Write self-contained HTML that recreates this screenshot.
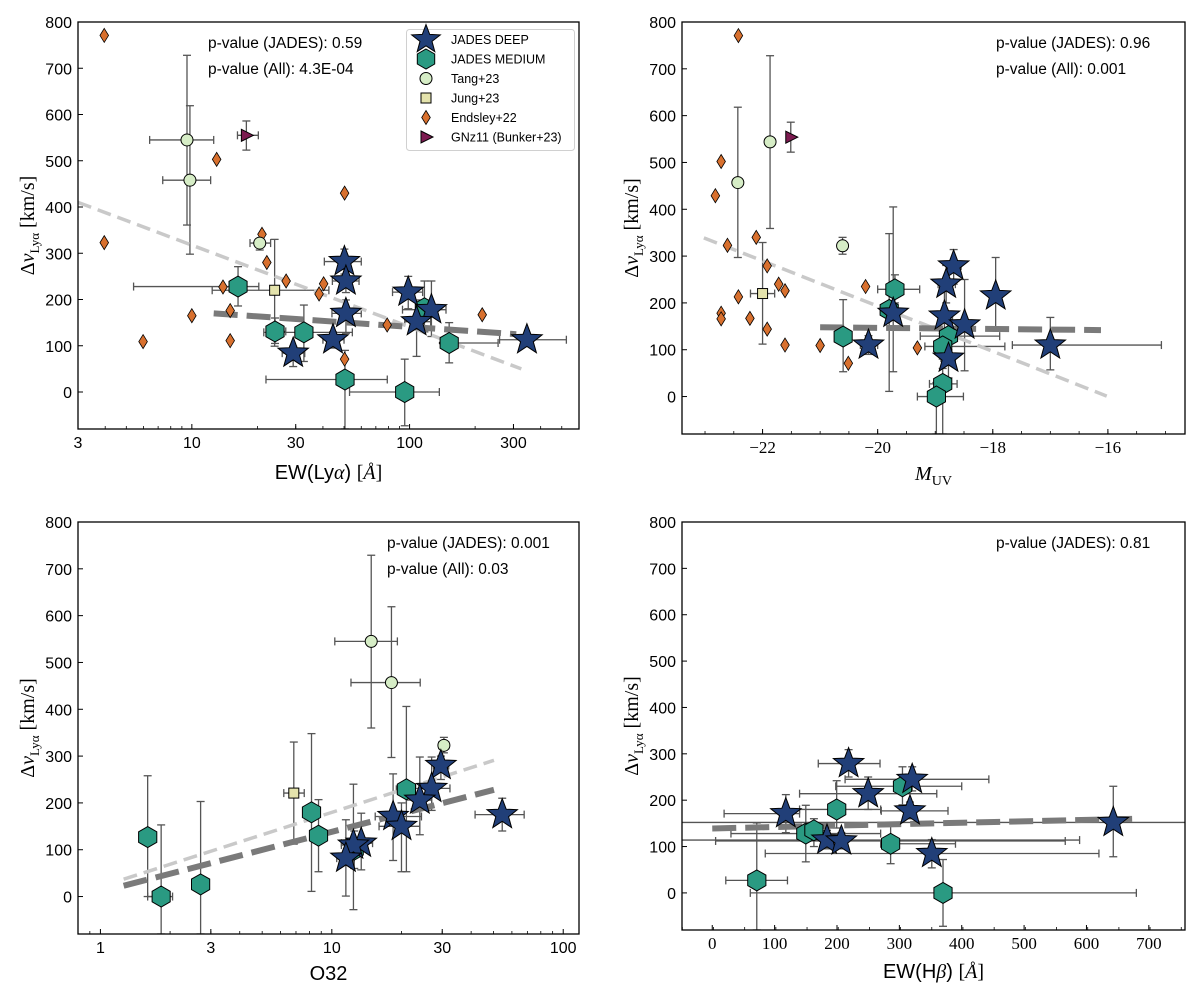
<!DOCTYPE html>
<html><head><meta charset="utf-8"><style>
body{margin:0;background:#fff}
svg{display:block}
text{font-family:"Liberation Sans",sans-serif;fill:#000}
.serif{font-family:"Liberation Serif",serif}
</style></head><body>
<svg id="fig" width="1200" height="998" viewBox="0 0 1200 998" xmlns="http://www.w3.org/2000/svg"></svg>
<script>
// ---------- data: panel 1 (EW Lya, log) ----------
const p1Deep=[[50.2,282],[51,240],[98.6,216],[126,178],[51,170],[107.7,152],[44.5,113],[29.2,84],[346,113]];
const p1DeepErr=[[40.6,60,255,309],[44.2,58.6,215,265],[83.5,114.8,180,250],[92.8,147,120,240],[44,60,127,199],[95,125,77,199],[40,50,95,130],[26,33,55,99],[259,525,103,123]];
const p1Med=[[16.3,228],[24.1,131],[32.7,129],[152,106],[50.5,27],[95,0],[117,181]];
const p1MedErr=[[5.4,20.3,186,271],[22,27,105,160],[21.4,54.6,66,188],[140,255,63,150],[21.9,79,-80,90],[53,137,-73,71],[108,128,130,240]];
const p1Tang=[[9.5,545],[9.8,458],[20.5,322]];
const p1TangErr=[[6.4,12.6,361,728],[7.35,12.2,298,619],[18.5,23,307,331]];
const p1Jung=[[24,220]];
const p1JungErr=[[12.4,42.6,99,330]];
const p1Gn=[[17.8,555]];
const p1GnErr=[[16.2,20.2,523,586]];
const p1End=[[3.96,771],[3.96,323],[5.97,109],[10,165],[13,503],[13.9,227],[15,176],[15,111],[21,341],[22.1,280],[27.1,240],[38.4,212],[40.3,234],[50.3,430],[50.3,71],[78.9,145],[143,106],[215.6,167]];
const p1FitAll=[[3,410],[326,50]];
const p1FitJades=[[12.6,170],[309,125]];
const p1Ticks=[3,10,30,100,300];
// ---------- panel 2 (M_UV) ----------
const p2Deep=[[-18.68,279],[-18.81,240],[-17.95,215],[-19.73,178],[-18.84,172],[-18.49,153],[-20.16,110],[-17.0,110],[-18.77,82]];
const p2DeepErr=[[-18.8,-18.55,240,314],[-18.95,-18.65,200,280],[-18.05,-17.85,140,297],[-19.85,-19.6,53,405],[-18.95,-18.7,100,240],[-18.6,-18.4,55,250],[-20.3,-20.0,90,130],[-17.66,-15.07,57,169],[-18.9,-18.65,40,120]];
const p2Med=[[-19.7,229],[-20.6,128],[-18.77,129],[-18.87,107],[-18.87,27],[-18.98,0],[-19.8,185]];
const p2MedErr=[[-20.0,-19.27,200,260],[-20.7,-20.5,53,207],[-19.26,-17.88,100,160],[-19.18,-17.79,80,135],[-19.1,-18.62,-80,60],[-19.31,-18.51,-80,30],[-19.95,-19.65,11,348]];
const p2Tang=[[-21.87,544],[-22.43,457],[-20.61,322]];
const p2TangErr=[[null,null,359,728],[null,null,297,618],[null,null,304,340]];
const p2Jung=[[-22,220]];
const p2JungErr=[[-22.21,-21.79,112,329]];
const p2Gn=[[-21.51,554]];
const p2GnErr=[[null,null,522,586]];
const p2End=[[-22.42,771],[-22.72,502],[-22.82,429],[-22.11,340],[-22.61,323],[-21.92,279],[-21.72,240],[-21.61,226],[-22.42,213],[-22.72,178],[-22.72,166],[-22.22,167],[-21.92,144],[-21.61,110],[-21.0,109],[-20.21,235],[-20.51,71],[-19.31,104]];
const p2FitAll=[[-23.02,339],[-16.02,1]];
const p2FitJades=[[-21.0,148],[-16.12,142]];
const p2Ticks=[-22,-20,-18,-16];
// ---------- panel 3 (O32, log) ----------
const p3Deep=[[29.6,280],[27,231],[24,206],[18.4,171],[20,150],[54.5,175],[13.4,114],[12.4,110],[11.5,82]];
const p3DeepErr=[[27.5,32,250,300],[22.9,32.4,184,298],[21,27,132,298],[15.4,24.4,77,262],[16,24,53,200],[41.6,67.8,140,210],[11,15,57,178],[11,14,-28,240],[10.5,12.5,1,164]];
const p3Med=[[1.6,127],[1.83,0],[2.71,26],[8.17,180],[8.76,130],[21,229],[12.5,100]];
const p3MedErr=[[null,null,0,258],[1.6,2.05,-80,153],[2.55,2.9,-80,203],[null,null,11,348],[8.3,9.2,53,207],[19,23,53,406],[null,null,60,140]];
const p3Tang=[[14.8,545],[18.1,457],[30.5,323]];
const p3TangErr=[[10.3,19.2,360,729],[12.1,24.1,297,619],[29,32,307,340]];
const p3Jung=[[6.85,221]];
const p3JungErr=[[6.2,7.6,112,330]];
const p3FitAll=[[1.26,37],[50.2,291]];
const p3FitJades=[[1.26,23],[50.2,228]];
const p3Ticks=[1,3,10,30,100];
// ---------- panel 4 (EW Hb) ----------
const p4Deep=[[218.6,279],[320.6,245],[250,214],[317,177],[118,171],[643,152],[184,114],[207,112],[352,85]];
const p4DeepErr=[[170,269,250,309],[213,443.5,220,272],[140,360,180,250],[271,378,160,196],[19,140,130,212],[-100,1000,78,230],[-100,589,95,135],[5.4,566,95,130],[85,620,54,115]];
const p4Med=[[199.5,180],[305,230],[150,128],[163,135],[286,106],[71.4,27],[370,0]];
const p4MedErr=[[140,270,140,242],[198,400,190,272],[30,270,67,189],[null,null,100,160],[270,390,63,150],[21.7,120.6,-80,151],[61,680,-72,72]];
const p4FitJades=[[0,139],[680,160]];
const p4Ticks=[0,100,200,300,400,500,600,700];
const yTicks=[0,100,200,300,400,500,600,700,800];

const NS='http://www.w3.org/2000/svg';
const svg=document.getElementById('fig');
function mk(tag,attrs,parent){const e=document.createElementNS(NS,tag);for(const k in attrs)e.setAttribute(k,attrs[k]);(parent||svg).appendChild(e);return e;}
function scale(type,d0,d1,r0,r1){
  if(type==='log'){const a=Math.log10(d0),b=Math.log10(d1);return v=>r0+(Math.log10(v)-a)/(b-a)*(r1-r0);}
  return v=>r0+(v-d0)/(d1-d0)*(r1-r0);
}
const COL={deep:'#213f78',med:'#2a9a82',tang:'#d6edc6',jung:'#e4e3ac',end:'#d8702e',gn:'#7c1a50'};
function star(g,cx,cy,R){let p=[];for(let i=0;i<10;i++){const r=i%2?R*0.42:R;const a=-Math.PI/2+i*Math.PI/5;p.push((cx+r*Math.cos(a)).toFixed(1)+','+(cy+r*Math.sin(a)).toFixed(1));}
  return mk('polygon',{points:p.join(' '),fill:COL.deep,stroke:'#000','stroke-width':1},g);}
function hexa(g,cx,cy,R){let p=[];for(let i=0;i<6;i++){const a=-Math.PI/2+i*Math.PI/3;p.push((cx+R*Math.cos(a)).toFixed(1)+','+(cy+R*Math.sin(a)).toFixed(1));}
  return mk('polygon',{points:p.join(' '),fill:COL.med,stroke:'#000','stroke-width':1},g);}
function circ(g,cx,cy){return mk('circle',{cx:cx,cy:cy,r:6,fill:COL.tang,stroke:'#000','stroke-width':1},g);}
function sq(g,cx,cy){return mk('rect',{x:cx-5,y:cy-5,width:10,height:10,fill:COL.jung,stroke:'#000','stroke-width':1},g);}
function dia(g,cx,cy){return mk('polygon',{points:`${cx},${cy-7} ${cx+4.3},${cy} ${cx},${cy+7} ${cx-4.3},${cy}`,fill:COL.end,stroke:'#000','stroke-width':0.8},g);}
function tri(g,cx,cy){return mk('polygon',{points:`${cx-5},${cy-6} ${cx+7},${cy} ${cx-5},${cy+6}`,fill:COL.gn,stroke:'#000','stroke-width':1},g);}

function panel(cfg){
  const {id,L,R,T,B,xs,xd,yd}=cfg;
  const g=mk('g',{});
  
  
  const X=scale(xs,xd[0],xd[1],L,R), Y=scale('lin',yd[0],yd[1],B,T);
  const clipId='c'+id;
  const cp=mk('clipPath',{id:clipId},g);mk('rect',{x:L,y:T,width:R-L,height:B-T},cp);
  const plot=mk('g',{'clip-path':`url(#${clipId})`},g);
  
  
  // error bars
  function errs(pts,errArr,name){
    const eg=mk('g',{stroke:'#555','stroke-width':1.3,fill:'none'},plot);
    
    
    pts.forEach((p,i)=>{const e=errArr[i];if(!e)return;const cx=X(p[0]),cy=Y(p[1]);
      if(e[0]!==null){const x0=xs==='log'&&e[0]<=0?L-10:X(e[0]),x1=X(e[1]);mk('line',{x1:x0,y1:cy,x2:x1,y2:cy},eg);mk('line',{x1:x0,y1:cy-4,x2:x0,y2:cy+4},eg);mk('line',{x1:x1,y1:cy-4,x2:x1,y2:cy+4},eg);}
      if(e[2]!==null){const y0=Y(e[2]),y1=Y(e[3]);mk('line',{x1:cx,y1:y0,x2:cx,y2:y1},eg);mk('line',{x1:cx-4,y1:y0,x2:cx+4,y2:y0},eg);mk('line',{x1:cx-4,y1:y1,x2:cx+4,y2:y1},eg);}
    });
  }
  const S=cfg.series;
  if(S.end)errs(S.end,[],'endsley');
  if(S.gn)errs(S.gn,S.gnErr,'gnz11');
  if(S.jung)errs(S.jung,S.jungErr,'jung');
  if(S.tang)errs(S.tang,S.tangErr,'tang');
  errs(S.med,S.medErr,'jades-medium');
  errs(S.deep,S.deepErr,'jades-deep');
  // fits
  function fit(pts,col,w,dash,name){const l=mk('line',{x1:X(pts[0][0]),y1:Y(pts[0][1]),x2:X(pts[1][0]),y2:Y(pts[1][1]),stroke:col,'stroke-width':w,'stroke-dasharray':dash},plot);
    
    }
  if(S.fitAll)fit(S.fitAll,'#c9c9c9',3.5,'14 7','fit-all-line');
  fit(S.fitJades,'#7a7a7a',6,'24 9','fit-jades-line');
  // markers
  function marks(pts,fn,name){const mg=mk('g',{},plot);
    
    
    pts.forEach(p=>{const m=fn(mg,X(p[0]),Y(p[1]));
      
      });}
  if(S.end)marks(S.end,dia,'endsley');
  if(S.tang)marks(S.tang,circ,'tang');
  if(S.jung)marks(S.jung,sq,'jung');
  if(S.gn)marks(S.gn,tri,'gnz11');
  marks(S.med,(g2,x,y)=>hexa(g2,x,y,10.5),'jades-medium');
  marks(S.deep,(g2,x,y)=>star(g2,x,y,16),'jades-deep');
  // frame
  const fr=mk('rect',{x:L,y:T,width:R-L,height:B-T,fill:'none',stroke:'#000','stroke-width':1.3},g);
  
  
  // y ticks
  const yt=mk('g',{},g);
  
  
  yTicks.forEach(v=>{const y=Y(v);mk('line',{x1:L,y1:y,x2:L+5,y2:y,stroke:'#000','stroke-width':1},yt);
    const t=mk('text',{x:L-6,y:y+6,'text-anchor':'end','font-size':16},yt);t.textContent=v;});
  // x ticks
  const xt=mk('g',{},g);
  
  
  cfg.ticks.forEach(v=>{const x=X(v);mk('line',{x1:x,y1:B,x2:x,y2:B-5,stroke:'#000','stroke-width':1},xt);
    const t=mk('text',{x:x,y:B+cfg.tly,'text-anchor':'middle','font-size':cfg.serifTicks?17:16,class:cfg.serifTicks?'serif':''},xt);
    t.textContent=(v<0?'\u2212'+Math.abs(v):String(v));});
  if(xs==='log'){const a=Math.floor(Math.log10(xd[0])),b=Math.ceil(Math.log10(xd[1]));
    for(let d=a;d<=b;d++)for(let k=2;k<=9;k++){const v=k*Math.pow(10,d);if(v<xd[0]||v>xd[1])continue;const x=X(v);mk('line',{x1:x,y1:B,x2:x,y2:B-3,stroke:'#000','stroke-width':0.8},xt);}}
  else{for(let v=Math.ceil(xd[0]);v<=xd[1];v+=cfg.minor){const x=X(v);mk('line',{x1:x,y1:B,x2:x,y2:B-3,stroke:'#000','stroke-width':0.8},xt);}}
  // labels
  const yl=mk('text',{transform:`translate(${L-44},${(T+B)/2}) rotate(-90)`,'text-anchor':'middle','font-size':20,class:'serif'},g);
  
  
  yl.innerHTML='\u0394<tspan font-style="italic">v</tspan><tspan font-size="13" dy="5">Ly\u03b1</tspan><tspan dy="-5"> [km/s]</tspan>';
  const xl=mk('text',{x:(L+R)/2,y:B+cfg.xly,'text-anchor':'middle','font-size':20},g);
  
  
  xl.innerHTML=cfg.xlabel;
  cfg.pv.forEach((s,i)=>{const t=mk('text',{x:cfg.pvx,y:T+26+i*26,'font-size':15.5},g);
    
    
    t.textContent=s;});
  return g;
}
panel({id:'panel-ew-lya',L:78,R:579,T:22,B:429,xs:'log',xd:[3,600],yd:[-80,800],ticks:p1Ticks,tly:19,xly:50,
  xlabel:'EW(Ly<tspan class="serif" font-style="italic">\u03b1</tspan>) <tspan class="serif">[<tspan font-style="italic">\u00c5</tspan>]</tspan>',
  pv:['p-value (JADES): 0.59','p-value (All): 4.3E-04'],pvx:208,
  series:{deep:p1Deep,deepErr:p1DeepErr,med:p1Med,medErr:p1MedErr,tang:p1Tang,tangErr:p1TangErr,jung:p1Jung,jungErr:p1JungErr,gn:p1Gn,gnErr:p1GnErr,end:p1End,fitAll:p1FitAll,fitJades:p1FitJades}});
panel({id:'panel-muv',L:682,R:1185,T:22,B:434,xs:'lin',xd:[-23.4,-14.66],yd:[-80,800],ticks:p2Ticks,tly:19,minor:0.5,serifTicks:true,xly:46,
  xlabel:'<tspan class="serif" font-style="italic">M</tspan><tspan class="serif" font-size="14" dy="5">UV</tspan>',
  pv:['p-value (JADES): 0.96','p-value (All): 0.001'],pvx:996,
  series:{deep:p2Deep,deepErr:p2DeepErr,med:p2Med,medErr:p2MedErr,tang:p2Tang,tangErr:p2TangErr,jung:p2Jung,jungErr:p2JungErr,gn:p2Gn,gnErr:p2GnErr,end:p2End,fitAll:p2FitAll,fitJades:p2FitJades}});
panel({id:'panel-o32',L:78,R:579,T:522,B:934,xs:'log',xd:[0.8,117],yd:[-80,800],ticks:p3Ticks,tly:19,xly:46,
  xlabel:'O32',pv:['p-value (JADES): 0.001','p-value (All): 0.03'],pvx:387,
  series:{deep:p3Deep,deepErr:p3DeepErr,med:p3Med,medErr:p3MedErr,tang:p3Tang,tangErr:p3TangErr,jung:p3Jung,jungErr:p3JungErr,fitAll:p3FitAll,fitJades:p3FitJades}});
panel({id:'panel-ew-hb',L:682,R:1185,T:522,B:930,xs:'lin',xd:[-48.5,758],yd:[-80,800],ticks:p4Ticks,tly:19,minor:50,serifTicks:true,xly:48,
  xlabel:'EW(H<tspan class="serif" font-style="italic">\u03b2</tspan>) <tspan class="serif">[<tspan font-style="italic">\u00c5</tspan>]</tspan>',
  pv:['p-value (JADES): 0.81'],pvx:996,
  series:{deep:p4Deep,deepErr:p4DeepErr,med:p4Med,medErr:p4MedErr,fitJades:p4FitJades}});

// legend
const lg=mk('g',{});


mk('rect',{x:406.5,y:29.5,width:168,height:121,rx:3,fill:'#fff','fill-opacity':0.85,stroke:'#d0d0d0','stroke-width':1},lg);
const legLabels=['JADES DEEP','JADES MEDIUM','Tang+23','Jung+23','Endsley+22','GNz11 (Bunker+23)'];
const legFns=[(x,y)=>star(lg,x,y,15),(x,y)=>hexa(lg,x,y,10),(x,y)=>circ(lg,x,y),(x,y)=>sq(lg,x,y),(x,y)=>dia(lg,x,y),(x,y)=>tri(lg,x,y)];
legLabels.forEach((s,i)=>{const y=39.5+i*19.5;const m=legFns[i](426,y);
  
  
  const t=mk('text',{x:451,y:y+4.5,'font-size':12.5},lg);
  
  
  t.textContent=s;});
</script>
</body></html>
